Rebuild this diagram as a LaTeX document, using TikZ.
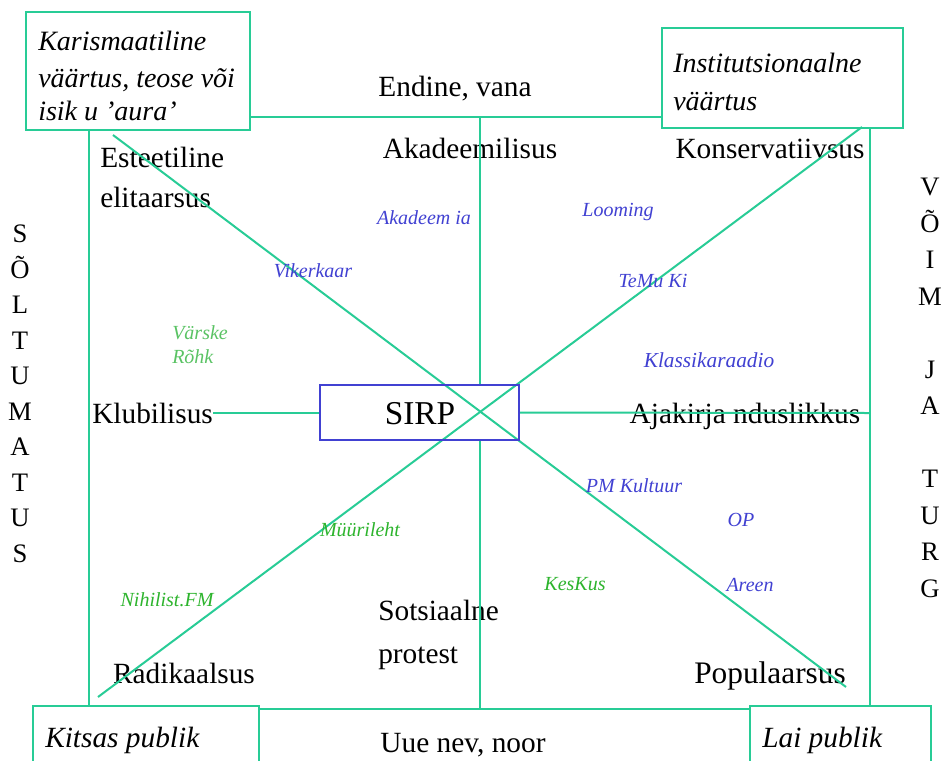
\documentclass[tikz,border=0pt]{standalone}
\usepackage{fontspec}
\setmainfont{Liberation Serif}
\definecolor{lg}{RGB}{40,204,150}
\definecolor{lb}{RGB}{65,65,210}
\definecolor{tg}{RGB}{45,180,45}
\definecolor{tg2}{RGB}{90,195,100}
\begin{document}
\begin{tikzpicture}[x=0.75pt,y=-0.75pt,
  ln/.style={draw=lg,line width=1.5pt},
  txt/.style={inner sep=0pt,text height=17pt,text depth=0.6pt},
  big/.style={txt,font=\fontsize{22}{26}\selectfont},
  cor/.style={txt,font=\fontsize{21}{25}\selectfont\itshape},
  sm/.style={inner sep=0pt,text height=11pt,text depth=0.6pt,font=\fontsize{15}{18}\selectfont\itshape,text=lb},
  smg/.style={sm,text=tg},
  vert/.style={inner sep=0pt,text height=15.4pt,text depth=0.6pt,font=\fontsize{20}{24}\selectfont},
  corbox/.style={draw=lg,line width=1.5pt,inner sep=0pt}]
\clip (0,0) rectangle (944,760);
\fill[white] (0,0) rectangle (944,760);

% corner boxes
\node[corbox,minimum width=168pt,minimum height=88.5pt] (kb) at (138,71) {};
\node[corbox,minimum width=180.75pt,minimum height=75pt] (ib) at (782.5,78) {};
\node[corbox,minimum width=169.5pt,minimum height=63pt] (kp) at (146,748) {};
\node[corbox,minimum width=135.75pt,minimum height=63pt] (lp) at (840.5,748) {};

% frame coordinates
\coordinate (t1) at (250,117);
\coordinate (t2) at (662,117);
\coordinate (tm) at (480,117);
\coordinate (b1) at (259,709);
\coordinate (b2) at (750,709);
\coordinate (bm) at (480,709);
\coordinate (l1) at (89,130);
\coordinate (l2) at (89,706);
\coordinate (r1) at (870,128);
\coordinate (r2) at (870,706);
\coordinate (rm) at (870,413);
\coordinate (d1a) at (113,135);
\coordinate (d1b) at (846,687);
\coordinate (d2a) at (98,697);
\coordinate (d2b) at (862,127);

% texts (main)
\node[big] (endine) at (455,86) {Endine, vana};
\node[big] (akad) at (470,148) {Akadeemilisus};
\node[big] (kons) at (770,148) {Konservatiivsus};
\node[big,anchor=west] (est1) at (100,157) {Esteetiline};
\node[big,anchor=west] (est2) at (100,197) {elitaarsus};
\node[big,anchor=west] (klub) at (92,413) {Klubilisus};
\node[big] (ajak) at (745,413) {Ajakirja nduslikkus};
\node[big,anchor=west] (sots1) at (378,610) {Sotsiaalne};
\node[big,anchor=west] (sots2) at (378,653) {protest};
\node[big] (rad) at (184,673) {Radikaalsus};
\node[big,font=\fontsize{23.5}{28}\selectfont] (pop) at (770,673) {Populaarsus};
\node[big] (uue) at (463,742) {Uue nev, noor};

% SIRP box
\node[draw=lb,line width=1.5pt,minimum width=149.25pt,minimum height=41.25pt,inner sep=0pt] (sirpbox) at (419.5,412.5) {};
\node[txt,text height=19pt,font=\fontsize{25}{30}\selectfont] (sirp) at (420,412) {SIRP};

% lines
\draw[ln] (t1) -- (t2);
\draw[ln] (b1) -- (b2);
\draw[ln] (l1) -- (l2);
\draw[ln] (r1) -- (r2);
\draw[ln] (tm) -- (sirpbox.north -| tm);
\draw[ln] (sirpbox.south -| bm) -- (bm);
\draw[ln] (klub.east |- sirpbox.west) -- (sirpbox.west);
\draw[ln] (sirpbox.east) -- (rm);
\draw[ln] (d1a) -- (d1b);
\draw[ln] (d2a) -- (d2b);
\node[draw=lb,line width=1.5pt,minimum width=149.25pt,minimum height=41.25pt,inner sep=0pt] at (419.5,412.5) {};

% corner texts
\node[cor,anchor=west] (k1) at (38,40) {Karismaatiline};
\node[cor,anchor=west] (k2) at (38,77) {väärtus, teose või};
\node[cor,anchor=west] (k3) at (38,110) {isik u ’aura’};
\node[cor,anchor=west] (i1) at (673,62) {Institutsionaalne};
\node[cor,anchor=west] (i2) at (673,100) {väärtus};
\node[cor,anchor=west,font=\fontsize{22}{26}\selectfont\itshape] (kt) at (45,737) {Kitsas publik};
\node[cor,anchor=west,font=\fontsize{22}{26}\selectfont\itshape] (lt) at (762,737) {Lai publik};

% vertical words
\foreach \l [count=\i from 0] in {S,Õ,L,T,U,M,A,T,U,S}
  \node[vert] (sl\i) at (20,233+35.5*\i) {\l};
\foreach \l/\k in {V/0,Õ/1,I/2,M/3,J/5,A/6,T/8,U/9,R/10,G/11}
  \node[vert] (vt\k) at (930,186+36.5*\k) {\l};

% small labels
\node[sm] (akademia) at (424,218) {Akadeem ia};
\node[sm] (looming) at (618,210) {Looming};
\node[sm] (vikerkaar) at (313,271) {Vikerkaar};
\node[sm] (temuki) at (653,281) {TeMu Ki};
\node[sm,font=\fontsize{16}{19}\selectfont\itshape] (klassika) at (709,361) {Klassikaraadio};
\node[sm,text=tg2,anchor=west] (varske) at (172,333) {Värske};
\node[sm,text=tg2,anchor=west] (rohk) at (172,357) {Rõhk};
\node[sm] (pm) at (634,486) {PM Kultuur};
\node[sm] (op) at (741,520) {OP};
\node[sm] (areen) at (750,585) {Areen};
\node[smg] (myyr) at (360,530) {Müürileht};
\node[smg] (nihil) at (167,600) {Nihilist.FM};
\node[smg] (keskus) at (575,584) {KesKus};
\end{tikzpicture}
\end{document}
